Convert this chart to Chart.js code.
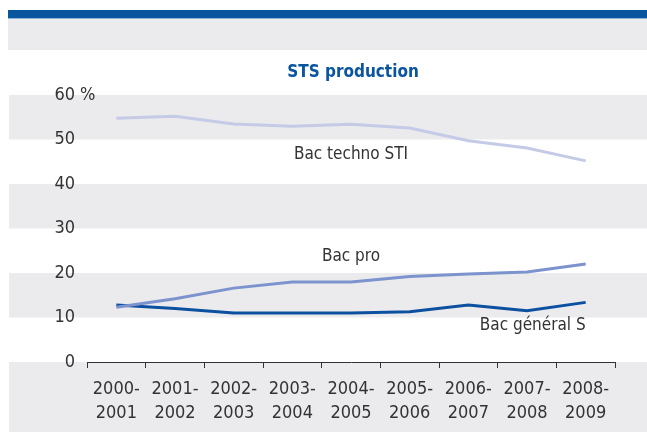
<!DOCTYPE html>
<html>
<head>
<meta charset="utf-8">
<script src="https://cdn.jsdelivr.net/npm/chart.js@4/dist/chart.umd.min.js"></script>
<style>
html,body{margin:0;padding:0;background:#fff;}
#wrap{position:relative;width:647px;height:432px;}
</style>
</head>
<body>
<div id="wrap"><canvas id="c"></canvas></div>
<script>
const categories = [
  ['2000-','2001'],['2001-','2002'],['2002-','2003'],['2003-','2004'],['2004-','2005'],
  ['2005-','2006'],['2006-','2007'],['2007-','2008'],['2008-','2009']
];
const bacTechnoSTI = [54.8, 55.2, 53.5, 53.0, 53.4, 52.6, 49.7, 48.1, 45.2];
const bacPro       = [12.3, 14.2, 16.6, 18.0, 18.0, 19.2, 19.8, 20.2, 22.0];
const bacGeneralS  = [12.8, 12.0, 11.0, 11.0, 11.0, 11.3, 12.8, 11.5, 13.4];
const seriesNames  = ['Bac techno STI', 'Bac pro', 'Bac général S'];
const labelIndex   = [4, 4, 8];
const labelValue   = [46.7, 23.8, 8.1];
const labelAlign   = ['center', 'center', 'right'];
const yTicks       = [0, 10, 20, 30, 40, 50, 60];
const bandRanges   = [[50, 60], [30, 40], [10, 20]];
const titleText    = 'STS production';
const unitText     = '%';

const FONT = '"Liberation Sans Narrow", "Arial Narrow", "DejaVu Sans Condensed", sans-serif';
const GRAY = '#ebebed';
const BLUE = '#0a55a0';
const TEXT = '#333333';

const decor = {
  id: 'decor',
  beforeDraw(chart) {
    const ctx = chart.ctx, y = chart.scales.y, W = chart.width, H = chart.height;
    ctx.save();
    ctx.fillStyle = BLUE;
    ctx.fillRect(8, 10, W - 8, 8);
    ctx.fillStyle = '#8fb3d9';
    ctx.fillRect(8, 18, W - 8, 1);
    ctx.fillStyle = GRAY;
    ctx.fillRect(8, 19, W - 8, 31);
    bandRanges.forEach(r => {
      const t = y.getPixelForValue(r[1]), b = y.getPixelForValue(r[0]);
      ctx.fillRect(9, t, W - 9, b - t);
    });
    const z = y.getPixelForValue(0);
    ctx.fillRect(9, z, W - 9, H - z);
    ctx.fillStyle = BLUE;
    ctx.font = 'bold 17px ' + FONT;
    ctx.textAlign = 'center';
    ctx.textBaseline = 'alphabetic';
    ctx.fillText(titleText, (chart.chartArea.left + chart.chartArea.right) / 2 + 2, 77);
    ctx.restore();
  },
  afterDraw(chart) {
    const ctx = chart.ctx, x = chart.scales.x, y = chart.scales.y;
    ctx.save();
    ctx.fillStyle = TEXT;
    ctx.font = '17px ' + FONT;
    ctx.textBaseline = 'middle';
    seriesNames.forEach((n, i) => {
      ctx.textAlign = labelAlign[i];
      ctx.fillText(n, x.getPixelForValue(labelIndex[i]), y.getPixelForValue(labelValue[i]));
    });
    ctx.font = '18px ' + FONT;
    ctx.textAlign = 'left';
    ctx.fillText(unitText, chart.chartArea.left - 7, y.getPixelForValue(yTicks[yTicks.length - 1]));
    ctx.restore();
  }
};

new Chart(document.getElementById('c'), {
  type: 'line',
  data: {
    labels: categories,
    datasets: [
      {label: seriesNames[0], data: bacTechnoSTI, borderColor: '#c5cae7', borderWidth: 3, pointRadius: 0, tension: 0},
      {label: seriesNames[1], data: bacPro, borderColor: '#7c93cd', borderWidth: 3, pointRadius: 0, tension: 0},
      {label: seriesNames[2], data: bacGeneralS, borderColor: '#0c50a0', borderWidth: 3, pointRadius: 0, tension: 0}
    ]
  },
  options: {
    responsive: true,
    maintainAspectRatio: false,
    animation: false,
    layout: {padding: {top: 95, right: 32, left: 0, bottom: 0}},
    plugins: {legend: {display: false}, title: {display: false}, tooltip: {enabled: false}},
    scales: {
      x: {
        type: 'category',
        offset: true,
        grid: {offset: true, drawOnChartArea: false, drawTicks: true, tickLength: 6, color: TEXT, lineWidth: 1},
        border: {display: true, color: TEXT, width: 1},
        ticks: {color: TEXT, font: {family: FONT, size: 18, lineHeight: 1.33}, maxRotation: 0, minRotation: 0, autoSkip: false, padding: 9},
        afterFit(s) { s.height = 70; }
      },
      y: {
        min: 0, max: 60,
        afterBuildTicks(s) { s.ticks = yTicks.map(v => ({value: v})); },
        grid: {display: false, drawTicks: false},
        border: {display: false},
        ticks: {color: TEXT, font: {family: FONT, size: 18}, padding: 12},
        afterFit(s) { s.width = 87; }
      }
    }
  },
  plugins: [decor]
});
</script>
</body>
</html>
